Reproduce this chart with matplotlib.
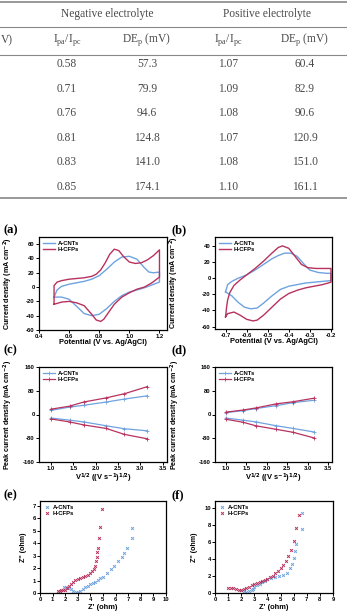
import matplotlib
matplotlib.use('Agg')
import matplotlib.pyplot as plt
from matplotlib.lines import Line2D

plt.rcParams['font.family'] = ['Liberation Sans', 'DejaVu Sans']
plt.rcParams['axes.unicode_minus'] = False

W, H = 347, 612
blue = '#6fa3e0'
red = '#b8325e'
grey = '#4a4a4a'

# ---- table ----
rates_col = ['0.58', '0.71', '0.76', '0.81', '0.83', '0.85']
neg_de = ['57.3', '79.9', '94.6', '124.8', '141.0', '174.1']
pos_ratio = ['1.07', '1.09', '1.08', '1.07', '1.08', '1.10']
pos_de = ['60.4', '82.9', '90.6', '120.9', '151.0', '161.1']
col_heads = ['V)', r'I$_\mathregular{pa}$/I$_\mathregular{pc}$', r'DE$_\mathregular{p}$ (mV)',
             r'I$_\mathregular{pa}$/I$_\mathregular{pc}$', r'DE$_\mathregular{p}$ (mV)']
groups = ['Negative electrolyte', 'Positive electrolyte']

# ---- CV curves ----
a_cnt_v = [0.50, 0.52, 0.55, 0.60, 0.65, 0.70, 0.75, 0.80, 0.85, 0.90, 0.95, 1.00, 1.05, 1.10, 1.13, 1.16, 1.20,
           1.20, 1.15, 1.10, 1.05, 1.00, 0.95, 0.90, 0.85, 0.80, 0.75, 0.70, 0.65, 0.60, 0.55, 0.50]
a_cnt_j = [-14, -4, 1, 4, 6, 8, 11, 16, 25, 35, 42, 43, 39, 27, 21, 20, 21,
           7, 3, -1, -4, -7, -12, -20, -30, -38, -40, -37, -27, -17, -14, -14]
a_cfp_v = [0.50, 0.50, 0.52, 0.55, 0.60, 0.65, 0.70, 0.75, 0.78, 0.81, 0.84, 0.87, 0.90, 0.93, 0.96, 1.00, 1.04,
           1.08, 1.12, 1.16, 1.20, 1.20, 1.15, 1.10, 1.05, 1.00, 0.95, 0.90, 0.86, 0.83, 0.81, 0.78, 0.75, 0.70,
           0.65, 0.60, 0.55, 0.50]
a_cfp_j = [-24, 2, 7, 9, 11, 12, 13, 15, 18, 24, 34, 46, 53, 51, 43, 35, 33,
           34, 38, 44, 52, 14, 6, 0, -3, -8, -14, -24, -36, -45, -48, -46, -38, -26,
           -22, -20, -21, -24]
b_cnt_v = [-0.70, -0.69, -0.67, -0.64, -0.60, -0.56, -0.52, -0.48, -0.45, -0.42, -0.39, -0.36, -0.33, -0.30,
           -0.26, -0.22, -0.20, -0.20, -0.24, -0.28, -0.32, -0.36, -0.40, -0.44, -0.48, -0.52, -0.55, -0.58,
           -0.61, -0.64, -0.67, -0.70]
b_cnt_j = [-17, -8, -4, 0, 4, 10, 17, 24, 28, 31, 31, 27, 18, 10,
           7, 6, 6, -3, -4, -5, -6, -8, -10, -14, -22, -31, -37, -38,
           -36, -30, -22, -17]
b_cfp_v = [-0.70, -0.695, -0.69, -0.68, -0.66, -0.63, -0.60, -0.56, -0.52, -0.48, -0.45, -0.43, -0.40, -0.37,
           -0.34, -0.31, -0.27, -0.23, -0.20, -0.20, -0.24, -0.28, -0.32, -0.36, -0.40, -0.44, -0.48, -0.52,
           -0.55, -0.57, -0.60, -0.63, -0.66, -0.69, -0.70]
b_cfp_j = [-48, -36, -27, -18, -9, -2, 4, 12, 21, 31, 38, 40, 37, 27,
           17, 13, 12, 12, 12, -5, -8, -10, -12, -15, -19, -26, -36, -46,
           -52, -53, -51, -46, -42, -44, -48]

# ---- peak current vs sqrt(scan rate) ----
sqrt_v = [1.0, 1.414, 1.732, 2.236, 2.646, 3.162]
c_cnt_pa = [14, 25, 31, 42, 52, 63]
c_cnt_pc = [-12, -19, -25, -38, -48, -55]
c_cfp_pa = [18, 28, 42, 56, 70, 94]
c_cfp_pc = [-15, -25, -35, -47, -67, -82]
d_cnt_pa = [6, 13, 20, 30, 40, 48]
d_cnt_pc = [-12, -19, -25, -38, -47, -59]
d_cfp_pa = [8, 15, 22, 36, 43, 55]
d_cfp_pc = [-16, -26, -38, -50, -60, -79]

# ---- EIS ----
e_cnt_re = [1.9, 2.05, 2.25, 2.45, 2.65, 2.85, 3.0, 3.2, 3.4, 3.6, 3.8, 4.0, 4.2, 4.4, 4.6, 4.8, 5.0,
            5.3, 5.6, 5.9, 6.2, 6.5, 6.7, 6.9, 7.3, 7.3]
e_cnt_im = [0.45, 0.45, 0.38, 0.3, 0.2, 0.1, 0.08, 0.18, 0.32, 0.45, 0.58, 0.7, 0.8, 0.92, 1.05, 1.18, 1.32,
            1.6, 1.9, 2.2, 2.55, 2.9, 3.25, 3.65, 4.45, 5.2]
e_cfp_re = [1.4, 1.55, 1.7, 1.85, 2.0, 2.15, 2.3, 2.45, 2.6, 2.8, 3.0, 3.2, 3.4, 3.6, 3.8, 4.0, 4.15,
            4.3, 4.4, 4.45, 4.5, 4.55, 4.6, 4.65, 4.8, 4.9]
e_cfp_im = [0.15, 0.2, 0.22, 0.22, 0.25, 0.38, 0.55, 0.72, 0.88, 1.05, 1.15, 1.22, 1.3, 1.38, 1.48, 1.6, 1.75,
            1.95, 2.2, 2.55, 2.9, 3.3, 3.6, 4.4, 5.3, 6.75]
f_cnt_re = [2.0, 2.2, 2.4, 2.6, 2.8, 2.9, 3.0, 3.2, 3.4, 3.6, 3.8, 4.0, 4.3, 4.6, 4.9, 5.2, 5.5, 5.7,
            5.9, 6.0, 6.1, 6.2, 6.6, 6.6]
f_cnt_im = [0.3, 0.2, 0.15, 0.2, 0.3, 0.5, 0.7, 0.9, 1.1, 1.3, 1.45, 1.6, 1.75, 1.85, 1.95, 2.1, 2.4, 2.9,
            3.4, 4.1, 4.9, 5.8, 7.5, 9.4]
f_cfp_re = [1.0, 1.2, 1.4, 1.6, 1.8, 2.0, 2.2, 2.4, 2.6, 2.8, 3.0, 3.2, 3.4, 3.6, 3.8, 4.0, 4.2, 4.4,
            4.6, 4.8, 5.0, 5.2, 5.4, 5.6, 5.8, 6.0, 6.2, 6.4]
f_cfp_im = [0.6, 0.6, 0.55, 0.5, 0.4, 0.35, 0.45, 0.6, 0.75, 0.9, 1.05, 1.15, 1.3, 1.45, 1.55, 1.7, 1.85, 2.05,
            2.3, 2.6, 2.9, 3.3, 3.8, 4.4, 5.1, 6.1, 7.6, 9.1]

fig = plt.figure(figsize=(W / 100, H / 100), dpi=100)


def fx(px):
    return px / W


def fy(py):
    return 1 - py / H


# table lines and text
for yl in [2, 27, 55, 198]:
    fig.add_artist(Line2D([0, 1], [fy(yl), fy(yl)], color='#888888', lw=1.2 if yl in (2, 198) else 0.8))
ser = ['Liberation Serif', 'DejaVu Serif']
fig.text(fx(107), fy(14), groups[0], family=ser, fontsize=8.3, color=grey, ha='center', va='center')
fig.text(fx(267), fy(14), groups[1], family=ser, fontsize=8.3, color=grey, ha='center', va='center')
col_x = [0, 67, 147, 228, 305]
for i, h in enumerate(col_heads):
    fig.text(fx(col_x[i]) if i else 0.003, fy(40), h, family=ser, fontsize=8.3, color=grey,
             ha='left' if i == 0 else 'center', va='center')
row_y = [64, 89, 113, 138, 162, 187]
for r in range(6):
    vals = [rates_col[r], neg_de[r], pos_ratio[r], pos_de[r]]
    for k, v in enumerate(vals):
        fig.text(fx(col_x[k + 1]), fy(row_y[r]), v, family=ser, fontsize=8.3, color=grey,
                 ha='center', va='center')


def mkax(l, r, t, b):
    ax = fig.add_axes([fx(l), fy(b), fx(r - l), (b - t) / H])
    for s in ax.spines.values():
        s.set_linewidth(0.9)
    ax.tick_params(direction='out', length=2, width=0.7, labelsize=4.2, pad=1)
    return ax


def boldticks(ax):
    for lab in ax.get_xticklabels() + ax.get_yticklabels():
        lab.set_fontweight('bold')


lab_kw = dict(fontsize=5.4, fontweight='bold')
ylab_kw = dict(fontsize=5.1, fontweight='bold')
leg_kw = dict(loc='upper left', frameon=False, prop={'size': 4.2, 'weight': 'bold'}, handlelength=2.2,
              borderaxespad=0.2, labelspacing=0.2, handletextpad=0.4)

# (a)
ax = mkax(39, 167, 237, 330)
ax.plot(a_cnt_v, a_cnt_j, color=blue, lw=1, label='A-CNTs')
ax.plot(a_cfp_v, a_cfp_j, color=red, lw=1, label='H-CFPs')
ax.set_xlim(0.4, 1.25)
ax.set_ylim(-60, 70)
ax.set_xticks([0.4, 0.6, 0.8, 1.0, 1.2])
ax.set_yticks([-60, -40, -20, 0, 20, 40, 60])
boldticks(ax)
ax.legend(**leg_kw)
ax.set_xlabel('Potential (V vs. Ag/AgCl)', **lab_kw)
ax.set_ylabel(r'Current density (mA cm$^{\mathbf{-2}}$)', **ylab_kw)
ax.xaxis.set_label_coords(0.5, -0.1)
ax.yaxis.set_label_coords(-0.19, 0.5)

# (b)
ax = mkax(215, 332, 237, 329)
ax.plot(b_cnt_v, b_cnt_j, color=blue, lw=1, label='A-CNTs')
ax.plot(b_cfp_v, b_cfp_j, color=red, lw=1, label='H-CFPs')
ax.set_xlim(-0.75, -0.195)
ax.set_ylim(-63, 51)
ax.set_xticks([-0.7, -0.6, -0.5, -0.4, -0.3, -0.2])
ax.set_yticks([-60, -40, -20, 0, 20, 40])
boldticks(ax)
ax.legend(**leg_kw)
ax.set_xlabel('Potential (V vs. Ag/AgCl)', **lab_kw)
ax.set_ylabel(r'Current density (mA cm$^{\mathbf{-2}}$)', **ylab_kw)
ax.xaxis.set_label_coords(0.5, -0.1)
ax.yaxis.set_label_coords(-0.29, 0.5)

# (c), (d)
for l, r, pa1, pc1, pa2, pc2, ylx in [(39, 167, c_cnt_pa, c_cnt_pc, c_cfp_pa, c_cfp_pc, -0.19),
                                       (215, 332, d_cnt_pa, d_cnt_pc, d_cfp_pa, d_cfp_pc, -0.28)]:
    ax = mkax(l, r, 367, 462)
    ax.plot(sqrt_v, pa1, color=blue, lw=0.9, marker='+', ms=2.5, mew=0.6, label='A-CNTs')
    ax.plot(sqrt_v, pa2, color=red, lw=0.9, marker='+', ms=2.5, mew=0.6, label='H-CFPs')
    ax.plot(sqrt_v, pc1, color=blue, lw=0.9, marker='+', ms=2.5, mew=0.6)
    ax.plot(sqrt_v, pc2, color=red, lw=0.9, marker='+', ms=2.5, mew=0.6)
    ax.set_xlim(0.73, 3.6)
    ax.set_ylim(-160, 160)
    ax.set_xticks([1.0, 1.5, 2.0, 2.5, 3.0, 3.5])
    ax.set_yticks([-160, -80, 0, 80, 160])
    boldticks(ax)
    ax.legend(**leg_kw)
    ax.set_xlabel(r'V$^{\mathbf{1/2}}$ ((V s$^{\mathbf{-1}}$)$^{\mathbf{1/2}}$)', **lab_kw)
    ax.set_ylabel(r'Peak current density (mA cm$^{\mathbf{-2}}$)', **ylab_kw)
    ax.xaxis.set_label_coords(0.5, -0.1)
    ax.yaxis.set_label_coords(ylx, 0.5)

# (e)
eis_leg = dict(leg_kw)
eis_leg['handlelength'] = 1.2
ax = mkax(40, 166, 501, 593)
ax.plot(e_cnt_re, e_cnt_im, ls='none', marker='x', ms=2, mew=0.7, color=blue, label='A-CNTs')
ax.plot(e_cfp_re, e_cfp_im, ls='none', marker='x', ms=2, mew=0.7, color=red, label='H-CFPs')
ax.set_xlim(0, 10)
ax.set_ylim(0, 7.4)
ax.set_xticks(range(0, 11))
ax.set_yticks(range(0, 8))
boldticks(ax)
ax.legend(**eis_leg)
ax.set_xlabel("Z' (ohm)", **lab_kw)
ax.set_ylabel("Z'' (ohm)", **ylab_kw)
ax.xaxis.set_label_coords(0.5, -0.115)
ax.yaxis.set_label_coords(-0.1, 0.5)

# (f)
ax = mkax(215, 333, 501, 593)
ax.plot(f_cnt_re, f_cnt_im, ls='none', marker='x', ms=2, mew=0.7, color=blue, label='A-CNTs')
ax.plot(f_cfp_re, f_cfp_im, ls='none', marker='x', ms=2, mew=0.7, color=red, label='H-CFPs')
ax.set_xlim(0, 9)
ax.set_ylim(0, 10.8)
ax.set_xticks(range(0, 10))
ax.set_yticks([0, 2, 4, 6, 8, 10])
boldticks(ax)
ax.legend(**eis_leg)
ax.set_xlabel("Z' (ohm)", **lab_kw)
ax.set_ylabel("Z'' (ohm)", **ylab_kw)
ax.xaxis.set_label_coords(0.5, -0.115)
ax.yaxis.set_label_coords(-0.14, 0.5)

# panel letters
for t, x, y in [('(a)', 3, 230), ('(b)', 172, 230), ('(c)', 3, 350), ('(d)', 172, 350),
                ('(e)', 3, 495), ('(f)', 172, 495)]:
    fig.text(fx(x), fy(y), t, family=ser, fontsize=9, fontweight='bold', ha='left', va='center')

fig.savefig('out.png', dpi=100)
